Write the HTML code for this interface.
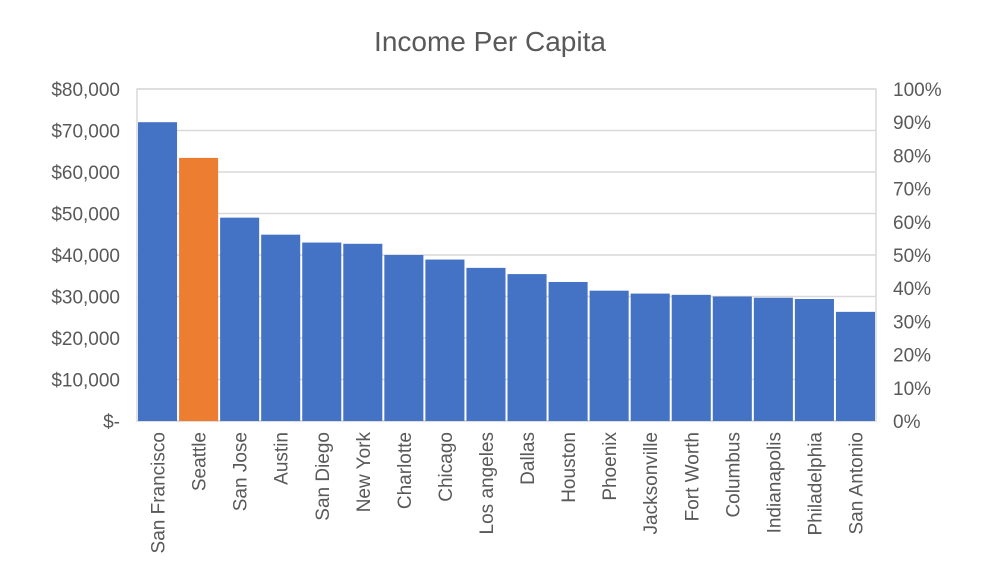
<!DOCTYPE html>
<html><head><meta charset="utf-8"><style>
html,body{margin:0;padding:0;background:#fff;}
svg{display:block;font-family:"Liberation Sans",sans-serif;}
</style></head><body>
<svg id="chart" width="982" height="584">
<text x="490" y="51" text-anchor="middle" font-size="28" fill="#595959">Income Per Capita</text>
<g id="grid"></g><g id="bars"></g><g id="axes"></g>
</svg>
<script>
const categories=["San Francisco","Seattle","San Jose","Austin","San Diego","New York","Charlotte","Chicago","Los angeles","Dallas","Houston","Phoenix","Jacksonville","Fort Worth","Columbus","Indianapolis","Philadelphia","San Antonio"];
const values=[72000,63400,49000,44900,43000,42700,40000,38900,36900,35400,33500,31400,30700,30400,30000,29700,29400,26300];
const highlight=[false,true,false,false,false,false,false,false,false,false,false,false,false,false,false,false,false,false];
const leftTicks=["$-","$10,000","$20,000","$30,000","$40,000","$50,000","$60,000","$70,000","$80,000"];
const rightTicks=["0%","10%","20%","30%","40%","50%","60%","70%","80%","90%","100%"];
const yMax=80000;
const L=137,R=876,T=89,B=421;
const NS="http://www.w3.org/2000/svg";
function y(v){return B-(v/yMax)*(B-T);}
const bw=(R-L)/categories.length;
function x(i){return L+i*bw;}
function mk(tag,attrs,parent,txt){const e=document.createElementNS(NS,tag);for(const k in attrs)e.setAttribute(k,attrs[k]);if(txt!==undefined)e.textContent=txt;parent.appendChild(e);return e;}
const grid=document.getElementById('grid'),bars=document.getElementById('bars'),axes=document.getElementById('axes');
leftTicks.forEach((t,i)=>{const v=i*10000;const gy=y(v);
 const g=mk('line',{x1:L,x2:R,y1:gy,y2:gy,stroke:'#d9d9d9','stroke-width':1.5},grid);
 
 
 const tx=mk('text',{x:120,y:gy+7,'text-anchor':'end','font-size':19,fill:'#595959'},axes,t);
 
 
});
rightTicks.forEach((t,i)=>{const gy=B-(i/(rightTicks.length-1))*(B-T);
 const tx=mk('text',{x:893,y:gy+7,'font-size':19,fill:'#595959'},axes,t);
 
 
});
const fr=mk('rect',{x:L,y:T,width:R-L,height:B-T,fill:'none',stroke:'#d9d9d9','stroke-width':1.5},grid);


values.forEach((v,i)=>{
 const r=mk('rect',{x:x(i)+1,y:y(v),width:bw-2,height:B-y(v),fill:highlight[i]?'#ed7d31':'#4472c4'},bars);
 
 
 const cx=x(i)+bw/2+7, ty=432;
 const tx=mk('text',{x:cx,y:ty,'text-anchor':'end','font-size':19,fill:'#595959',transform:`rotate(-90 ${cx} ${ty})`},axes,categories[i]);
 
 
});
</script>
</body></html>
